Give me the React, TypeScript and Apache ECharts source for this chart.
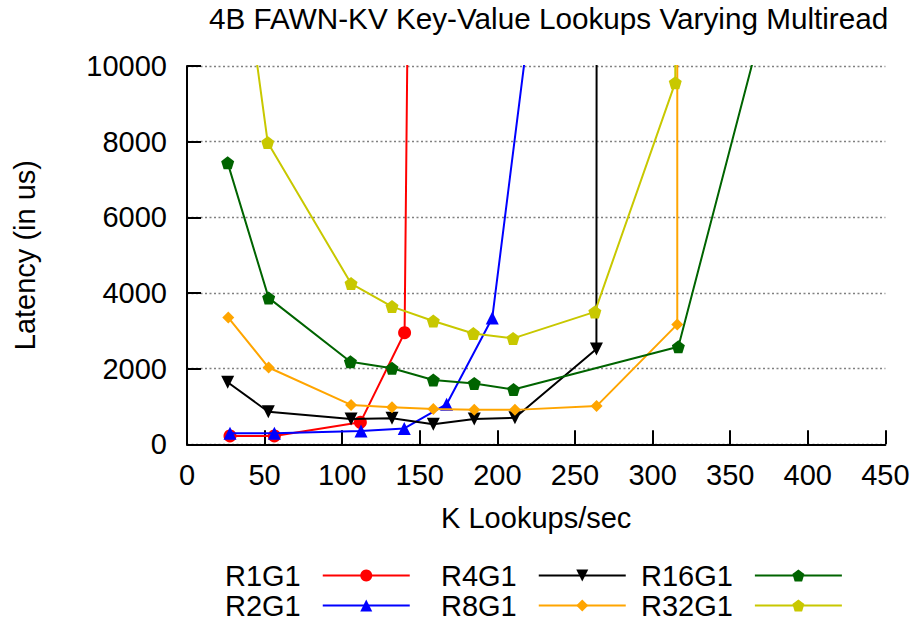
import React, { useEffect, useRef } from "react";
import * as echarts from "echarts";

const title = "4B FAWN-KV Key-Value Lookups Varying Multiread";
const xName = "K Lookups/sec";
const yName = "Latency (in us)";

const seriesNames = ["R1G1", "R2G1", "R4G1", "R8G1", "R16G1", "R32G1"];
const seriesColors = ["#ff0000", "#0000ff", "#000000", "#ffa500", "#006400", "#c8c800"];

const xR1G1 = [27.7, 56.3, 111.7, 140.2, 143.0];
const yR1G1 = [220, 220, 580, 2950, 14600];

const xR2G1 = [27.7, 56.3, 112.1, 140.0, 167.3, 196.7, 222.0];
const yR2G1 = [290, 290, 350, 420, 1060, 3340, 11600];

const xR4G1 = [26.2, 52.4, 105.7, 132.1, 158.7, 185.1, 211.3, 263.8, 264.0];
const yR4G1 = [1640, 860, 670, 690, 530, 670, 700, 2520, 16000];

const xR8G1 = [26.6, 52.6, 105.7, 132.1, 158.7, 185.1, 211.3, 263.9, 315.9, 315.9];
const yR8G1 = [3350, 2030, 1040, 980, 930, 910, 910, 1010, 3170, 16000];

const xR16G1 = [26.2, 52.6, 105.3, 132.1, 158.7, 185.1, 210.4, 316.6, 370.2];
const yR16G1 = [7440, 3870, 2180, 2010, 1700, 1610, 1450, 2580, 11000];

const xR32G1 = [26.2, 52.0, 105.7, 132.1, 158.7, 184.5, 210.1, 262.8, 314.6, 315.0];
const yR32G1 = [15800, 7980, 4250, 3640, 3260, 2930, 2800, 3500, 9560, 16000];

const xTicks = { min: 0, max: 450, interval: 50 };
const yTicks = { min: 0, max: 10000, interval: 2000 };

const FONT = "'Liberation Sans', Arial, Helvetica, sans-serif";
const FS = 29;
const PENTAGON = "path://M0,-10 L9.511,-3.09 L5.878,8.09 L-5.878,8.09 L-9.511,-3.09 Z";

const symbols = ["circle", "triangle", "triangle", "diamond", PENTAGON, PENTAGON];
const symbolRotates = [0, 0, 180, 0, 0, 0];
const symbolSizes = [13, 13, 13, 12, 13, 13];

const xs = [xR1G1, xR2G1, xR4G1, xR8G1, xR16G1, xR32G1];
const ys = [yR1G1, yR2G1, yR4G1, yR8G1, yR16G1, yR32G1];

export default function App() {
  const ref = useRef<HTMLDivElement>(null);
  useEffect(() => {
    if (!ref.current) return;
    const chart = echarts.init(ref.current, undefined, { renderer: "svg" });
    const series = seriesNames.map((name, i) => ({
      name,
      type: "line",
      data: xs[i].map((x, j) => [x, ys[i][j]]),
      symbol: symbols[i],
      symbolSize: symbolSizes[i],
      symbolRotate: symbolRotates[i],
      showAllSymbol: true,
      clip: true,
      color: seriesColors[i],
      lineStyle: { color: seriesColors[i], width: 2 },
      itemStyle: { color: seriesColors[i] },
      z: 2 + i,
    }));
    const legendCommon = {
      orient: "vertical",
      align: "right",
      itemWidth: 87,
      itemHeight: 15,
      itemGap: 1,
      padding: 0,
      top: 561,
      selectedMode: false,
      textStyle: { fontSize: FS, fontFamily: FONT, color: "#000", padding: [0, 17, 0, 0] },
    };
    chart.setOption({
      animation: false,
      backgroundColor: "#ffffff",
      title: {
        text: title,
        left: 209,
        top: 0,
        padding: [3, 0, 0, 0],
        textStyle: { fontSize: 29.7, fontWeight: "normal", fontFamily: FONT, color: "#000" },
      },
      legend: [
        { ...legendCommon, left: 225, data: ["R1G1", "R2G1"] },
        { ...legendCommon, left: 441, data: ["R4G1", "R8G1"] },
        { ...legendCommon, left: 641, data: ["R16G1", "R32G1"] },
      ],
      grid: { left: 187, right: 31.6, top: 66, bottom: 179.7, containLabel: false },
      xAxis: {
        type: "value",
        min: xTicks.min,
        max: xTicks.max,
        interval: xTicks.interval,
        name: xName,
        nameLocation: "middle",
        nameGap: 59,
        nameTextStyle: { fontSize: FS, fontFamily: FONT, color: "#000" },
        axisLine: { show: true, onZero: false, lineStyle: { color: "#000", width: 2 } },
        axisTick: { show: true, inside: true, length: 14, lineStyle: { color: "#000", width: 2 } },
        axisLabel: { fontSize: FS, fontFamily: FONT, color: "#000", margin: 16 },
        splitLine: { show: false },
      },
      yAxis: {
        type: "value",
        min: yTicks.min,
        max: yTicks.max,
        interval: yTicks.interval,
        name: yName,
        nameLocation: "middle",
        nameGap: 148,
        nameTextStyle: { fontSize: FS, fontFamily: FONT, color: "#000" },
        axisLine: { show: true, onZero: false, lineStyle: { color: "#000", width: 2 } },
        axisTick: { show: true, inside: true, length: 14, lineStyle: { color: "#000", width: 2 } },
        axisLabel: {
          fontSize: FS,
          fontFamily: FONT,
          color: "#000",
          margin: 20,
          formatter: (v: number) => String(v),
        },
        splitLine: { show: true, lineStyle: { color: "#808080", width: 1.3, type: [2, 2.5] } },
      },
      series,
    });
    return () => chart.dispose();
  }, []);
  return (
    <div
      ref={ref}
      style={{ position: "absolute", left: 0, top: 0, width: 917, height: 624, background: "#fff" }}
    />
  );
}
